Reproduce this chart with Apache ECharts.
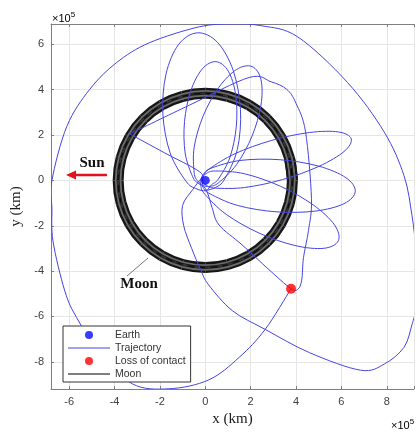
<!DOCTYPE html>
<html><head><meta charset="utf-8">
<script src="https://cdn.jsdelivr.net/npm/echarts@6/dist/echarts.min.js"></script>
<style>html,body{margin:0;padding:0;background:#fff}#c{width:417px;height:432px}</style>
</head><body><div id="c"></div>
<script>
// All coordinates in units of 1e5 km (axis shows x10^5)
const xTickLabels = [-6, -4, -2, 0, 2, 4, 6, 8];
const yTickLabels = [-8, -6, -4, -2, 0, 2, 4, 6];

const earthPos = [[0, 0]];
const lossOfContactPos = [[3.78, -4.78]];

const moonOrbit = [
  [3.84,0],[3.709,0.994],[3.326,1.92],[2.715,2.715],[1.92,3.326],[0.994,3.709],
  [0,3.84],[-0.994,3.709],[-1.92,3.326],[-2.715,2.715],[-3.326,1.92],[-3.709,0.994],
  [-3.84,0],[-3.709,-0.994],[-3.326,-1.92],[-2.715,-2.715],[-1.92,-3.326],[-0.994,-3.709],
  [0,-3.84],[0.994,-3.709],[1.92,-3.326],[2.715,-2.715],[3.326,-1.92],[3.709,-0.994],[3.84,0],[3.709,0.994]
];

// phasing loops + flyby (before the lunar encounter)
const trajectoryA = [
  [0.024,-0.449],[0.461,-0.307],[0.855,0.062],[1.413,1.368],[1.552,3.120],[1.231,4.849],[0.539,6.090],
  [-0.341,6.511],[-1.173,6.000],[-1.731,4.693],[-1.870,2.941],[-1.549,1.212],[-0.857,-0.028],[-0.426,-0.354],[0.024,-0.449],
  [0.282,-0.182],[0.583,0.067],[1.091,1.032],[1.369,2.391],[1.341,3.777],[1.015,4.819],[0.477,5.238],
  [-0.129,4.923],[-0.637,3.957],[-0.915,2.599],[-0.887,1.212],[-0.561,0.171],[-0.310,-0.128],[-0.023,-0.249],
  [0.221,-0.257],[0.589,-0.100],[1.378,0.699],[2.061,1.954],[2.456,3.327],[2.455,4.450],[2.061,5.024],
  [1.377,4.892],[0.588,4.093],[-0.095,2.838],[-0.490,1.465],[-0.489,0.342],[-0.337,-0.027],[-0.095,-0.231],
  [0.1,-0.55],[0.3,-1.2],[0.61,-1.97],[1.62,-2.84],[2.8,-3.93],[3.76,-4.76],[4.08,-4.8],[4.25,-4.4],
  [4.33,-3.4],[4.55,-2.2],[4.68,-0.79],[4.42,2.14],[4.0,3.4],[3.59,4.02],[2.9,4.35],[1.93,4.54],
  [-0.7,3.32],[-3.33,2.05]
];

// after the flyby: loops, escape loop, end at loss of contact
const trajectoryB = [
  [-3.33,2.05],[-1.8,1.22],[-0.26,0.39],
  [-0.115,-0.033],[0.060,-0.224],[0.446,-0.339],[1.734,-0.313],[3.405,0.038],[5.010,0.621],[6.118,1.277],
  [6.434,1.833],[5.872,2.139],[4.584,2.113],[2.913,1.762],[1.308,1.179],[0.200,0.523],[-0.068,0.222],[-0.115,-0.033],
  [-0.106,-0.291],[0.215,-0.593],[1.430,-1.105],[3.122,-1.384],[4.837,-1.355],[6.113,-1.026],[6.612,-0.485],
  [6.197,0.122],[4.983,0.635],[3.290,0.914],[1.576,0.885],[0.299,0.555],[-0.062,0.303],[-0.199,0.015],
  [-0.200,-0.232],[-0.012,-0.618],[0.924,-1.498],[2.372,-2.323],[3.947,-2.870],[5.225,-2.994],[5.865,-2.660],
  [5.695,-1.960],[4.759,-1.080],[3.310,-0.255],[1.736,0.292],[0.458,0.416],[0.042,0.304],[-0.182,0.083],
  [-0.55,-0.4],[-1.0,-1.1],[-0.95,-2.0],[-0.6,-3.0],[-0.2,-3.95],[0.15,-4.61],[1.2,-5.75],[2.64,-6.57],
  [4.6,-7.6],[6.84,-8.37],[7.89,-8.1],[8.76,-7.36],[9.11,-6.36],[9.29,-5.63],[9.42,-4.3],[9.29,-3.01],
  [9.11,-1.54],[8.76,0.21],[7.89,2.13],[6.27,4.32],[4.08,6.33],[2.5,6.82],[1.15,6.90],
  [-0.29,6.77],[-2.47,6.07],[-3.92,5.19],[-5.1,4.01],[-6.1,2.39],[-6.76,0],[-6.76,-1.24],[-6.71,-2.69],
  [-6.19,-4.88],[-5.67,-6.05],[-4.66,-7.58],[-3.22,-8.97],[-1.6,-9.19],[0.15,-8.80],[1.5,-7.8],[2.64,-6.57],
  [3.78,-4.78]
];

const chart = echarts.init(document.getElementById('c'), null, {renderer: 'canvas'});
const axisColor = '#7f7f7f';
const labelFont = 'Liberation Sans';
const trajColor = '#4545e3';
function mkFmt(list) { return v => (list.some(t => Math.abs(t - v) < 1e-6) ? String(v) : ''); }

// Smooth curve through the data points, positioned by the cartesian axes (api.coord)
function curveSeries(name, pts, color, width, z, dash, opacity) {
  return {
    name: name, type: 'custom', coordinateSystem: 'cartesian2d', data: pts, z: z, silent: true,
    encode: {x: 0, y: 1},
    itemStyle: {color: color},
    renderItem: function (params, api) {
      if (params.dataIndex !== 0) return null;
      const P = pts.map(p => api.coord(p));
      const children = [];
      const n = P.length;
      for (let i = 0; i < n - 1; i++) {
        const p0 = P[Math.max(i - 1, 0)], p1 = P[i], p2 = P[i + 1], p3 = P[Math.min(i + 2, n - 1)];
        children.push({
          type: 'bezierCurve',
          shape: {
            x1: p1[0], y1: p1[1], x2: p2[0], y2: p2[1],
            cpx1: p1[0] + (p2[0] - p0[0]) / 6, cpy1: p1[1] + (p2[1] - p0[1]) / 6,
            cpx2: p2[0] - (p3[0] - p1[0]) / 6, cpy2: p2[1] - (p3[1] - p1[1]) / 6
          },
          style: {stroke: color, lineWidth: width, fill: 'none', lineDash: dash || null, opacity: opacity == null ? 1 : opacity}
        });
      }
      const cs = params.coordSys;
      return {type: 'group', children: children,
        clipPath: {type: 'rect', shape: {x: cs.x, y: cs.y, width: cs.width, height: cs.height}}};
    }
  };
}

const lineIcon = 'path://M0,0 L42,0 L42,1.2 L0,1.2 Z';

chart.setOption({
  animation: false,
  backgroundColor: '#fff',
  grid: {left: 51, top: 24, right: 0, bottom: 40, containLabel: false},
  xAxis: [{
    type: 'value', min: -6.8, max: 9.2, splitNumber: 8, position: 'bottom',
    axisLine: {show: true, onZero: false, lineStyle: {color: axisColor}},
    axisTick: {show: true, inside: true, length: 3, lineStyle: {color: axisColor}},
    axisLabel: {formatter: mkFmt(xTickLabels), color: '#404040', fontSize: 11, margin: 7, fontFamily: labelFont},
    splitLine: {show: true, lineStyle: {color: '#e6e6e6'}},
    name: 'x (km)', nameLocation: 'middle', nameGap: 23,
    nameTextStyle: {fontFamily: 'Liberation Serif', fontSize: 15, color: '#1a1a1a'}
  }, {
    type: 'value', min: -6.8, max: 9.2, splitNumber: 8, position: 'top',
    axisLine: {show: true, onZero: false, lineStyle: {color: axisColor}},
    axisTick: {show: true, inside: true, length: 3, lineStyle: {color: axisColor}},
    axisLabel: {show: false}, splitLine: {show: false}
  }],
  yAxis: [{
    type: 'value', min: -9.2, max: 6.9, splitNumber: 8, position: 'left',
    axisLine: {show: true, onZero: false, lineStyle: {color: axisColor}},
    axisTick: {show: true, inside: true, length: 3, lineStyle: {color: axisColor}},
    axisLabel: {formatter: mkFmt(yTickLabels), color: '#404040', fontSize: 11, margin: 7, fontFamily: labelFont},
    splitLine: {show: true, lineStyle: {color: '#e6e6e6'}},
    name: 'y (km)', nameLocation: 'middle', nameGap: 25,
    nameTextStyle: {fontFamily: 'Liberation Serif', fontSize: 15, color: '#1a1a1a'}
  }],
  legend: {
    left: 63, top: 326, orient: 'vertical',
    data: [
      {name: 'Earth', icon: 'circle'},
      {name: 'Trajectory', icon: lineIcon, itemStyle: {color: trajColor}},
      {name: 'Loss of contact', icon: 'circle'},
      {name: 'Moon', icon: lineIcon, itemStyle: {color: '#000'}}
    ],
    itemWidth: 42, itemHeight: 8, itemGap: 1,
    padding: [3, 5, 2, 5],
    backgroundColor: '#fff', borderColor: '#333', borderWidth: 1, borderRadius: 0,
    textStyle: {fontSize: 10.5, fontFamily: labelFont, color: '#333', lineHeight: 12},
    selectedMode: false
  },
  series: [
    curveSeries('moonRing', moonOrbit, '#161616', 11, 1),
    curveSeries('moonRingGap', moonOrbit, '#6c6c6c', 6.5, 1),
    curveSeries('moonRingStrand', moonOrbit, '#1e1e1e', 3, 1),
    curveSeries('moonRingGlint', moonOrbit, '#d0d0d0', 0.9, 1, [5, 7], 0.55),
    curveSeries('Moon', moonOrbit, '#000', 0.6, 1),
    curveSeries('Trajectory', trajectoryA, trajColor, 1, 3),
    curveSeries('Trajectory', trajectoryB, trajColor, 1, 3),
    {name: 'Earth', type: 'scatter', data: earthPos, symbol: 'circle', symbolSize: 9, z: 5,
     itemStyle: {color: '#0a0aff'}},
    {name: 'Loss of contact', type: 'scatter', data: lossOfContactPos, symbol: 'circle', symbolSize: 10, z: 5,
     itemStyle: {color: '#ff0000'}}
  ],
  graphic: [
    {type: 'line', shape: {x1: 107, y1: 175, x2: 74, y2: 175}, style: {stroke: '#e0141e', lineWidth: 2.5}, z: 10},
    {type: 'polygon', shape: {points: [[66, 175], [76, 170.5], [76, 179.5]]}, style: {fill: '#e0141e'}, z: 10},
    {type: 'text', x: 92, y: 163, z: 10,
     style: {text: 'Sun', font: 'bold 15px "Liberation Serif"', fill: '#111', align: 'center', verticalAlign: 'middle'}},
    {type: 'line', shape: {x1: 127, y1: 276, x2: 148, y2: 258}, style: {stroke: '#555', lineWidth: 0.8}, z: 10},
    {type: 'text', x: 139, y: 284, z: 10,
     style: {text: 'Moon', font: 'bold 15px "Liberation Serif"', fill: '#111', align: 'center', verticalAlign: 'middle'}},
    {type: 'text', x: 52, y: 11, z: 10,
     style: {text: '{a|×10}{b|5}', rich: {a: {fontSize: 11, fontFamily: labelFont, color: '#404040'},
       b: {fontSize: 8, fontFamily: labelFont, color: '#404040', padding: [0, 0, 7, 0]}}}},
    {type: 'text', x: 391, y: 418, z: 10,
     style: {text: '{a|×10}{b|5}', rich: {a: {fontSize: 11, fontFamily: labelFont, color: '#404040'},
       b: {fontSize: 8, fontFamily: labelFont, color: '#404040', padding: [0, 0, 7, 0]}}}}
  ]
});
</script></body></html>
